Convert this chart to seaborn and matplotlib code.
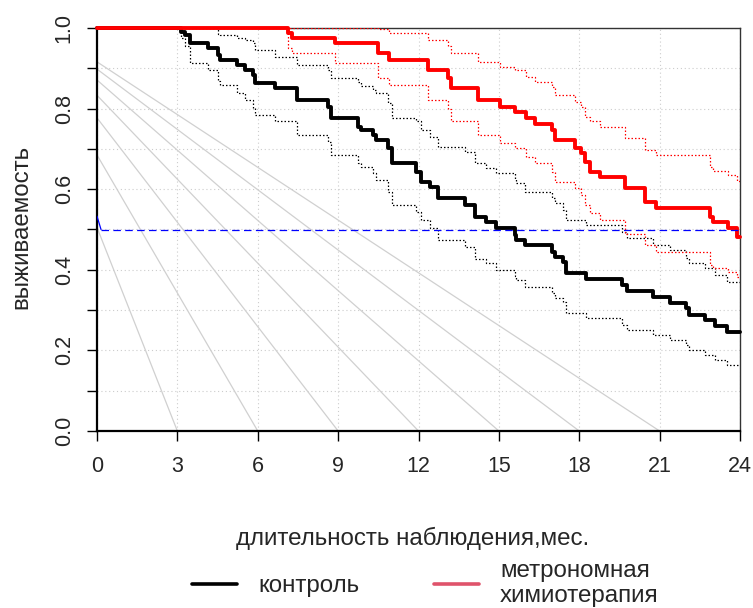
import numpy as np
import pandas as pd
import matplotlib
matplotlib.use('Agg')
import matplotlib.pyplot as plt
from matplotlib.lines import Line2D
import seaborn as sns

# контроль: время (мес.) и выживаемость с доверительными границами
ctrl_t = [0, 3.12, 3.28, 3.47, 4.15, 4.53, 4.6, 5.21, 5.52, 5.83, 5.9, 6.64, 7.45,
          8.63, 8.75, 9.75, 9.85, 10.31, 10.4, 10.87, 11.0, 11.9, 12.11, 12.43,
          12.74, 13.73, 14.1, 14.51, 14.89, 15.6, 15.65, 15.97, 16.97, 17.1, 17.4,
          17.5, 18.27, 19.58, 19.8, 20.76, 21.38, 22.0, 22.1, 22.69, 23.06, 23.5, 24]
ctrl_s = [1.0, 0.991, 0.983, 0.962, 0.950, 0.933, 0.921, 0.908, 0.896, 0.883, 0.863,
          0.850, 0.821, 0.805, 0.776, 0.755, 0.747, 0.734, 0.722, 0.701, 0.664, 0.643,
          0.619, 0.606, 0.577, 0.561, 0.532, 0.519, 0.503, 0.486, 0.474, 0.462, 0.445,
          0.433, 0.420, 0.391, 0.376, 0.362, 0.348, 0.333, 0.317, 0.304, 0.288, 0.275,
          0.261, 0.245, 0.245]
ctrl_hi = [1.0, 1.0, 1.0, 1.0, 1.0, 0.985, 0.983, 0.975, 0.970, 0.962, 0.946, 0.929,
           0.909, 0.896, 0.875, 0.867, 0.855, 0.846, 0.839, 0.814, 0.777, 0.770, 0.747,
           0.730, 0.705, 0.693, 0.664, 0.652, 0.639, 0.625, 0.615, 0.594, 0.577, 0.565,
           0.548, 0.524, 0.511, 0.495, 0.478, 0.462, 0.449, 0.430, 0.416, 0.404, 0.387,
           0.370, 0.370]
ctrl_lo = [1.0, 0.975, 0.955, 0.912, 0.896, 0.868, 0.859, 0.838, 0.821, 0.801, 0.784,
           0.768, 0.734, 0.718, 0.685, 0.665, 0.656, 0.639, 0.623, 0.594, 0.561, 0.544,
           0.524, 0.503, 0.474, 0.457, 0.428, 0.416, 0.400, 0.385, 0.375, 0.358, 0.342,
           0.330, 0.321, 0.292, 0.280, 0.263, 0.251, 0.238, 0.226, 0.213, 0.201, 0.189,
           0.176, 0.164, 0.164]

# метрономная химиотерапия
trt_t = [0, 7.14, 7.26, 8.88, 10.5, 10.9, 12.36, 13.1, 13.2, 14.23, 15.04, 15.6,
         16.03, 16.34, 16.97, 17.1, 17.84, 18.05, 18.2, 18.4, 18.77, 19.7, 20.45,
         20.88, 22.87, 23.0, 23.56, 23.9, 24]
trt_s = [1.0, 0.987, 0.974, 0.962, 0.937, 0.921, 0.896, 0.875, 0.850, 0.821, 0.805,
         0.792, 0.776, 0.763, 0.747, 0.722, 0.701, 0.689, 0.668, 0.643, 0.631, 0.602,
         0.569, 0.553, 0.532, 0.519, 0.503, 0.482, 0.482]
trt_hi = [1.0, 1.0, 1.0, 1.0, 0.997, 0.988, 0.970, 0.955, 0.937, 0.916, 0.904, 0.896,
          0.879, 0.867, 0.854, 0.834, 0.817, 0.805, 0.780, 0.768, 0.755, 0.726, 0.697,
          0.685, 0.656, 0.645, 0.635, 0.620, 0.620]
trt_lo = [1.0, 0.950, 0.937, 0.912, 0.875, 0.859, 0.821, 0.800, 0.768, 0.734, 0.714,
          0.701, 0.681, 0.664, 0.643, 0.619, 0.602, 0.586, 0.561, 0.540, 0.524, 0.490,
          0.462, 0.445, 0.412, 0.405, 0.395, 0.383, 0.383]

# серые вспомогательные линии: от (0, start) до (end, 0)
diag_start = [0.505, 0.685, 0.777, 0.833, 0.871, 0.898, 0.916]
diag_end = [3, 6, 9, 12, 15, 18, 21]

median_level = 0.5

sns.set_style('white')
plt.rcParams['font.family'] = ['Liberation Sans Narrow', 'Liberation Sans', 'DejaVu Sans']
FS_TICK = 15.5
FS_LAB = 17.4

fig = plt.figure(figsize=(7.53, 6.08), dpi=100)
ax = fig.add_axes([97 / 753, 1 - 431 / 608, 643 / 753, 403 / 608])


def step(t, s, **kw):
    df = pd.DataFrame({'t': t, 's': s})
    sns.lineplot(data=df, x='t', y='s', ax=ax, estimator=None, sort=False,
                 drawstyle='steps-post', legend=False, **kw)


for y0, x1 in zip(diag_start, diag_end):
    df = pd.DataFrame({'t': [0, x1], 's': [y0, 0]})
    sns.lineplot(data=df, x='t', y='s', ax=ax, estimator=None, sort=False,
                 color='#d0d0d0', lw=0.9, legend=False, zorder=2)

step(ctrl_t, ctrl_hi, color='black', lw=0.9, linestyle=(0, (1.2, 1.6)), zorder=3)
step(ctrl_t, ctrl_lo, color='black', lw=0.9, linestyle=(0, (1.2, 1.6)), zorder=3)
step(trt_t, trt_hi, color='red', lw=0.9, linestyle=(0, (1.2, 1.6)), zorder=3)
step(trt_t, trt_lo, color='red', lw=0.9, linestyle=(0, (1.2, 1.6)), zorder=3)
step(ctrl_t, ctrl_s, color='black', lw=2.8, zorder=4, clip_on=False)
step(trt_t, trt_s, color='red', lw=2.8, zorder=5, clip_on=False)

# медиана
ax.plot([0, 0.15], [0.533, median_level], color='blue', lw=0.9, zorder=6)
ax.plot([0.15, 24], [median_level, median_level], color='blue', lw=0.9,
        linestyle=(0, (6, 3.5)), zorder=6)

ax.set_xlim(0, 24)
ax.set_ylim(0, 1)
ax.set_xticks(np.arange(0, 25, 3))
ax.set_yticks(np.arange(0, 1.01, 0.2))
ax.set_yticks(np.arange(0.1, 1.0, 0.2), minor=True)
ax.set_yticklabels(['0.0', '0.2', '0.4', '0.6', '0.8', '1.0'], rotation=90, va='center')

ax.set_axisbelow(True)
ax.grid(True, which='both', color='#cccccc', lw=0.8, linestyle=(0, (1, 2.5)))

ax.tick_params(axis='both', which='both', direction='out', length=7, width=1,
               color='black', labelsize=FS_TICK, left=True, bottom=True)
ax.tick_params(axis='x', pad=11)
ax.tick_params(axis='y', pad=9)

for side in ['top', 'right']:
    ax.spines[side].set_linewidth(1.0)
    ax.spines[side].set_color('#333333')
for side in ['left', 'bottom']:
    ax.spines[side].set_linewidth(1.6)
    ax.spines[side].set_color('black')

ax.set_xlabel('длительность наблюдения,мес.', fontsize=FS_LAB)
ax.set_ylabel('выживаемость', fontsize=FS_LAB)
ax.xaxis.set_label_coords(0.491, -0.238)
ax.yaxis.set_label_coords(-0.1, 0.507)

handles = [Line2D([], [], color='black', lw=2.6),
           Line2D([], [], color='#DF536B', lw=2.6)]
fig.legend(handles, ['контроль', 'метрономная\nхимиотерапия'], loc='center',
           bbox_to_anchor=(0.565, 0.040), ncol=2, frameon=False, fontsize=FS_LAB,
           handlelength=1.86, handletextpad=0.87, columnspacing=3.1)

fig.savefig('out.png', dpi=100)
